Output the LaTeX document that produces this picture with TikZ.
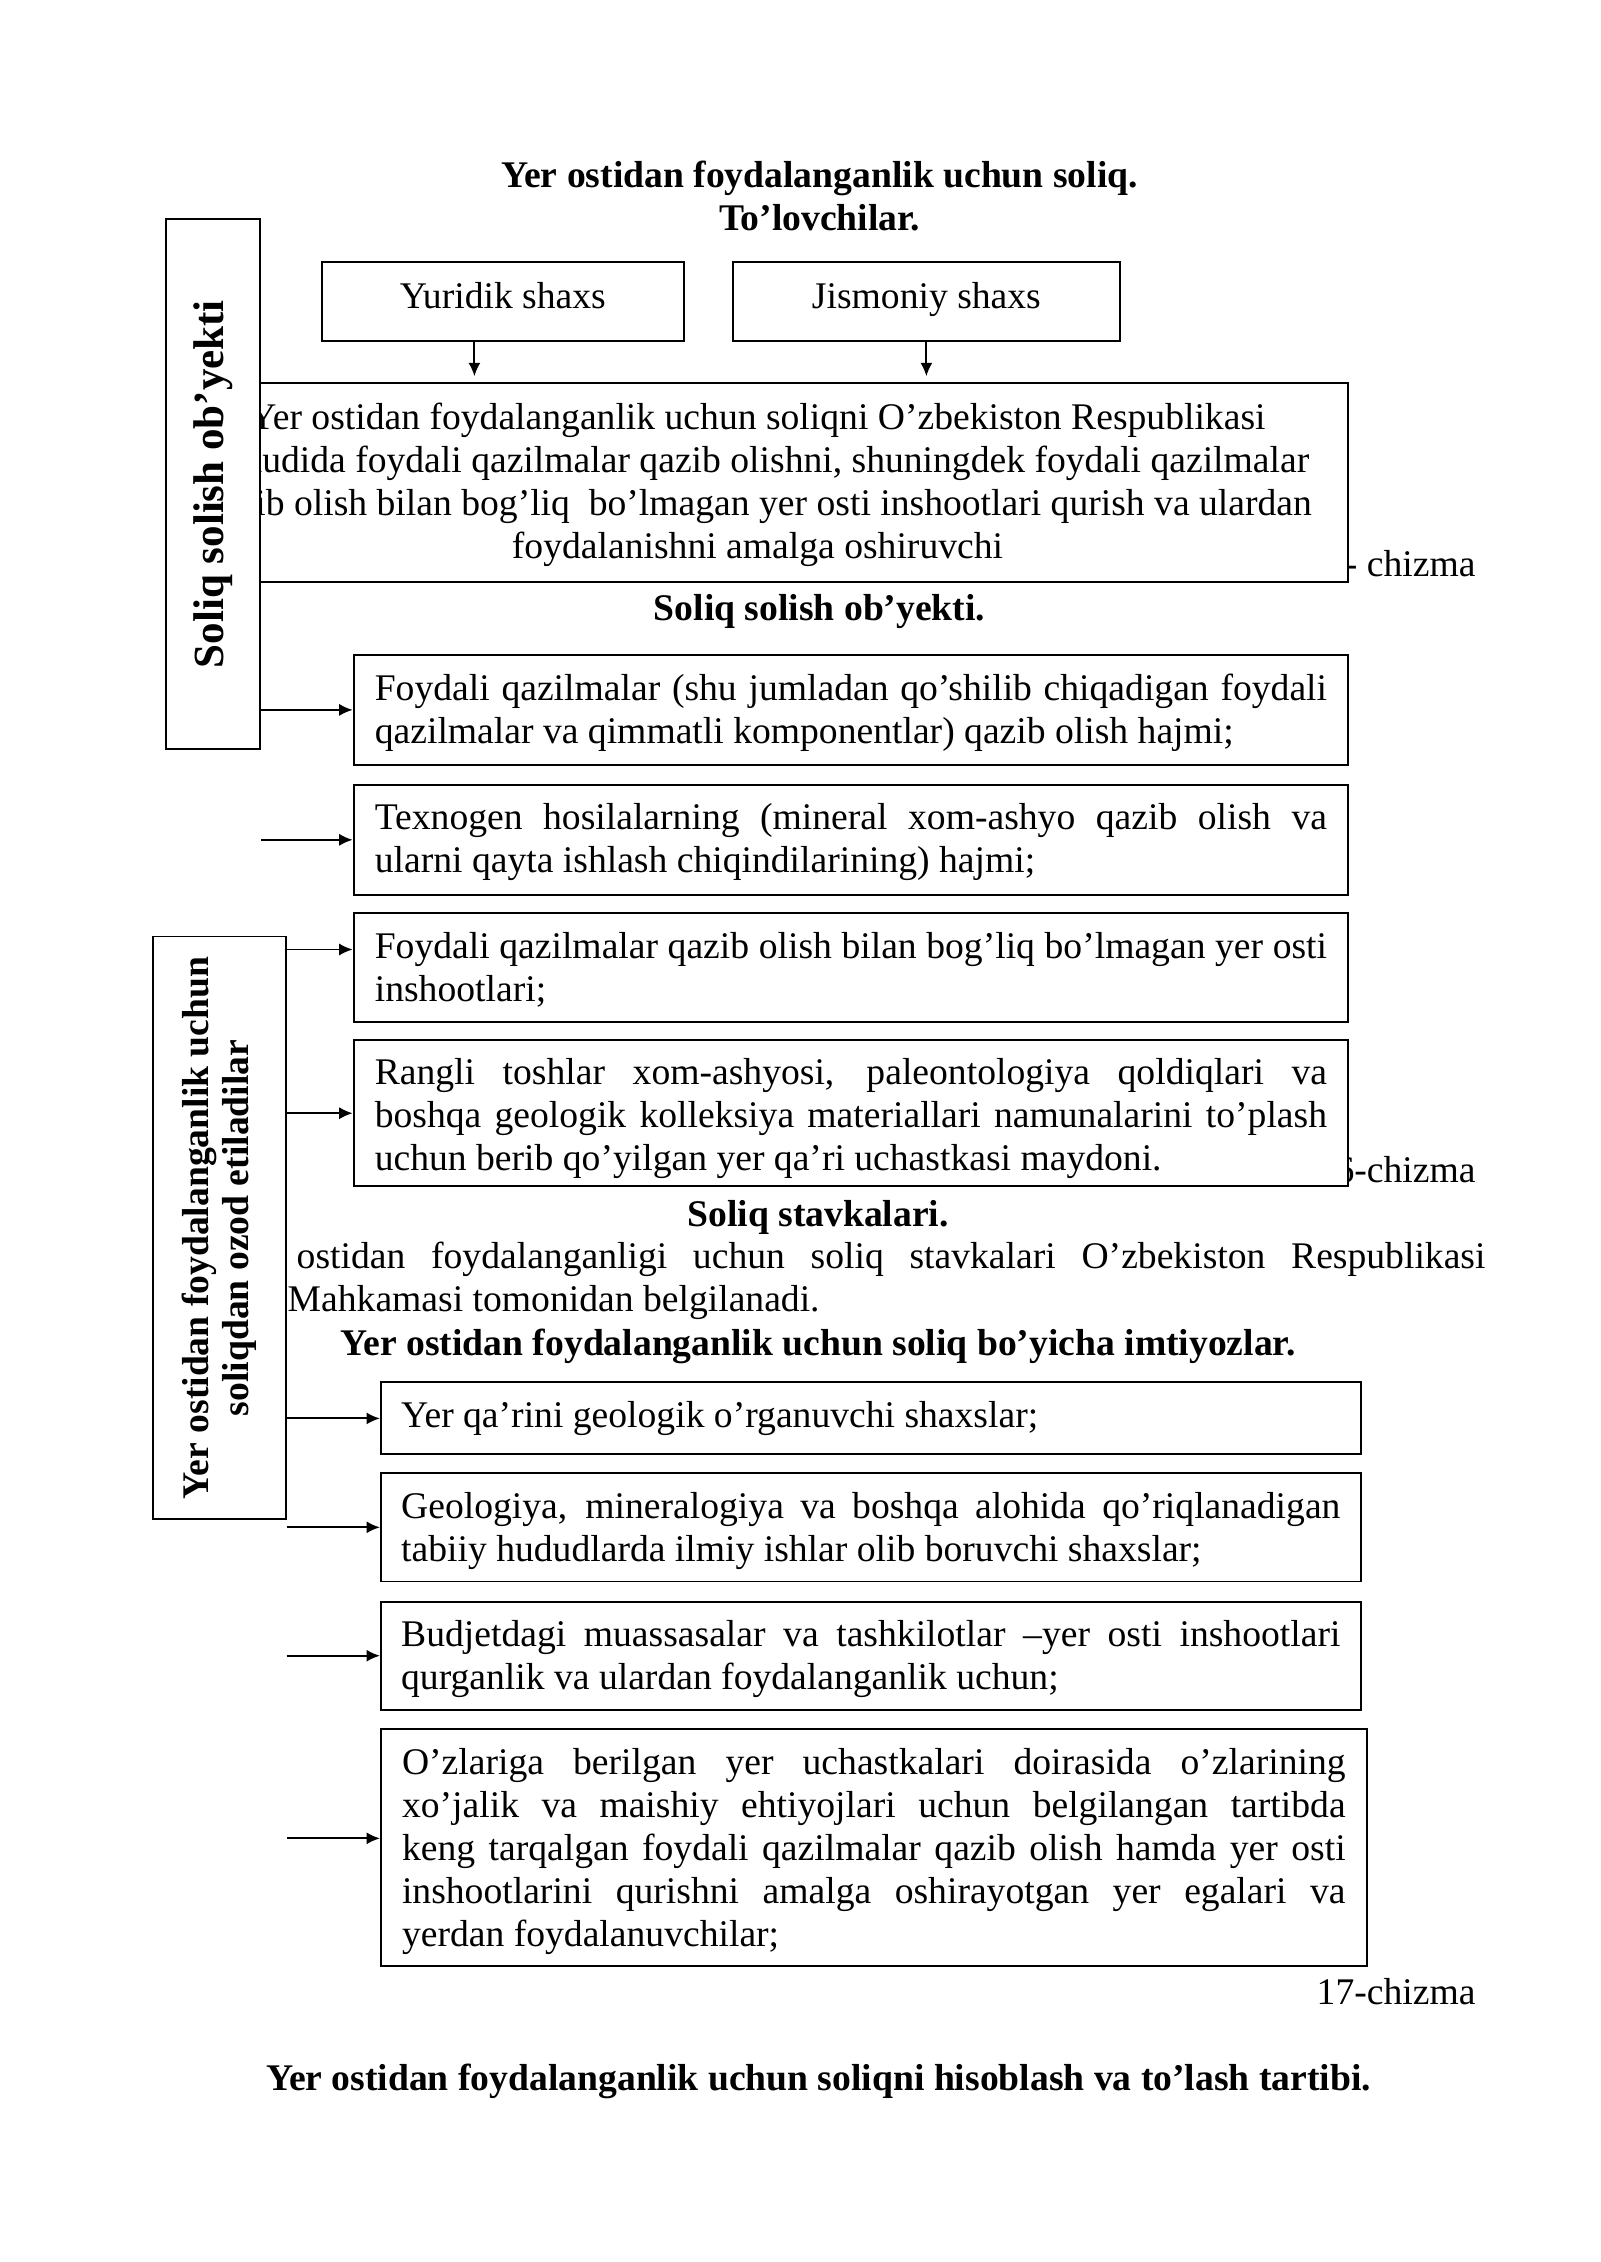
\documentclass[tikz,border=0pt]{standalone}
\usepackage{fontspec}
\setmainfont{Liberation Serif}
\usetikzlibrary{arrows.meta}
\hyphenpenalty=10000
\exhyphenpenalty=10000
\newcommand{\firststrut}[1]{\rule{0pt}{#1}}

\begin{document}
\begin{tikzpicture}[x=0.3721pt, y=-0.3721pt,
    every node/.style={font=\fontsize{14}{16}\selectfont},
    box/.style={draw, line width=0.7pt, fill=white, inner ysep=0pt},
    namebox/.style={box, text height=9.6pt, text depth=4.6pt, minimum height=29.3pt},
    listbox/.style={box, align=justify, text width=354.3pt, inner xsep=7.9pt},
    imtbox/.style={box, align=justify, text width=349.5pt, inner xsep=7.55pt},
    sidebox/.style={box, rotate=90, align=center, font=\fontsize{14}{15}\selectfont\bfseries},
    heading/.style={anchor=base, font=\fontsize{14}{16}\selectfont\bfseries},
    chizma/.style={anchor=base east},
    arr/.style={-{Latex[length=5pt,width=4.5pt]}, line width=0.7pt}]
    \useasboundingbox (0,0) rectangle (1600,2262);

    % sarlavha
    \node[heading] (title1) at (819.6,187.1) {Yer ostidan foydalanganlik uchun soliq.};
    \node[heading] (title2) at (819.6,230.4) {To’lovchilar.};

    % to'lovchilar
    \node[namebox, minimum width=134.8pt] (yuridik) at (502.9,301.4) {Yuridik shaxs};
    \node[namebox, minimum width=143.9pt] (jismoniy) at (926.4,301.4) {Jismoniy shaxs};

    % chizma raqamlari
    \node[chizma] (chz15) at (1485,576.7) {15- chizma};
    \node[chizma] (chz16) at (1485,1182.7) {16-chizma};
    \node[chizma] (chz17) at (1485,2004) {17-chizma};

    % to'lovchilar tavsifi
    \node[box, minimum width=404.9pt, minimum height=74pt] (payer) at (804.2,482.8) {};
    \node[align=center, inner sep=0pt] (payertext) at (757.5,485)
      {Yer ostidan foydalanganlik uchun soliqni O’zbekiston Respublikasi\\
       hududida foydali qazilmalar qazib olishni, shuningdek foydali qazilmalar\\
       qazib olish bilan bog’liq\ \ bo’lmagan yer osti inshootlari qurish va ulardan\\
       foydalanishni amalga oshiruvchi};

    % soliq solish ob'yekti
    \node[sidebox, font=\fontsize{16}{18}\selectfont\bfseries, minimum width=197.1pt, minimum height=35.1pt]
      (obyekt) at (212.9,484.1) {Soliq solish ob’yekti};
    \node[heading] (title3) at (819.6,620) {Soliq solish ob’yekti.};
    \node[listbox, minimum height=40.8pt] (obj1) at (850.9,709.9)
      {\firststrut{12.3pt}Foydali qazilmalar (shu jumladan qo’shilib chiqadigan foydali\linebreak
       qazilmalar va qimmatli komponentlar) qazib olish hajmi;};
    \node[listbox, minimum height=40.8pt] (obj2) at (850.9,839.8)
      {\firststrut{11.4pt}Texnogen hosilalarning (mineral xom-ashyo qazib olish va\linebreak
       ularni qayta ishlash chiqindilarining) hajmi;};
    \node[listbox, minimum height=40.3pt] (obj3) at (850.9,967.5)
      {\firststrut{11.1pt}Foydali qazilmalar qazib olish bilan bog’liq bo’lmagan yer osti\linebreak
       inshootlari;};
    \node[listbox, minimum height=54.2pt] (obj4) at (850.9,1113.2)
      {\firststrut{14pt}Rangli toshlar xom-ashyosi, paleontologiya qoldiqlari va\linebreak
       boshqa geologik kolleksiya materiallari namunalarini to’plash\linebreak
       uchun berib qo’yilgan yer qa’ri uchastkasi maydoni.};

    % soliq stavkalari
    \node[heading] (title4) at (818.1,1226) {Soliq stavkalari.};
    \node[anchor=west, text width=493.5pt, align=justify, inner sep=0pt] (stavka) at (158.7,1281)
      {\hspace*{22pt}Yer ostidan foydalanganligi uchun soliq stavkalari O’zbekiston Respublikasi\linebreak
       Vazirlar Mahkamasi tomonidan belgilanadi.};

    % imtiyozlar
    \node[heading] (title5) at (818.1,1355.8) {Yer ostidan foydalanganlik uchun soliq bo’yicha imtiyozlar.};
    \node[sidebox, minimum width=216.9pt, minimum height=49.4pt] (ozod) at (219.3,1227.9)
      {Yer ostidan foydalanganlik uchun\\soliqdan ozod etiladilar};
    \node[imtbox, minimum height=26.8pt] (imt1) at (870.8,1418.4)
      {Yer qa’rini geologik o’rganuvchi shaxslar;};
    \node[imtbox, minimum height=40.3pt] (imt2) at (870.8,1527.3)
      {\firststrut{12.1pt}Geologiya, mineralogiya va boshqa alohida qo’riqlanadigan\linebreak
       tabiiy hududlarda ilmiy ishlar olib boruvchi shaxslar;};
    \node[imtbox, minimum height=40.3pt] (imt3) at (870.8,1655.7)
      {\firststrut{12pt}Budjetdagi muassasalar va tashkilotlar –yer osti inshootlari\linebreak
       qurganlik va ulardan foydalanganlik uchun;};
    \node[imtbox, text width=351.1pt, inner xsep=7.85pt, minimum height=88.2pt] (imt4) at (873.8,1847.2)
      {\firststrut{13.2pt}O’zlariga berilgan yer uchastkalari doirasida o’zlarining\linebreak
       xo’jalik va maishiy ehtiyojlari uchun belgilangan tartibda\linebreak
       keng tarqalgan foydali qazilmalar qazib olish hamda yer osti\linebreak
       inshootlarini qurishni amalga oshirayotgan yer egalari va\linebreak
       yerdan foydalanuvchilar;};

    % hisoblash tartibi
    \node[heading] (title6) at (818.5,2090) {Yer ostidan foydalanganlik uchun soliqni hisoblash va to’lash tartibi.};

    % strelkalar
    \draw[arr, shorten >=2.3pt] ([xshift=-10.6pt]yuridik.south) -- ([xshift=-10.6pt]yuridik.south |- payer.north);
    \draw[arr, shorten >=2.3pt] (jismoniy.south) -- (jismoniy.south |- payer.north);
    \coordinate (to3) at ([yshift=6.7pt]obj3.west);
    \coordinate (to8) at ([yshift=3.3pt]imt4.west);
    \draw[arr] (obyekt.south |- obj1.west) -- (obj1.west);
    \draw[arr] (obyekt.south |- obj2.west) -- (obj2.west);
    \draw[arr] (ozod.south |- to3) -- (to3);
    \draw[arr] (ozod.south |- obj4.west) -- (obj4.west);
    \draw[arr] (ozod.south |- imt1.west) -- (imt1.west);
    \draw[arr] (ozod.south |- imt2.west) -- (imt2.west);
    \draw[arr] (ozod.south |- imt3.west) -- (imt3.west);
    \draw[arr] (ozod.south |- to8) -- (to8);
\end{tikzpicture}
\end{document}
